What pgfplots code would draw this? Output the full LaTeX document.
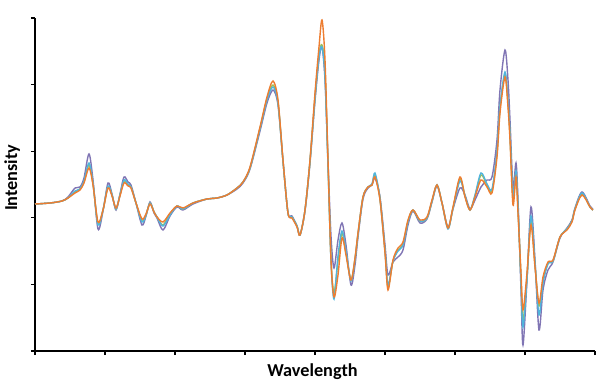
\documentclass[border=0pt]{standalone}
\usepackage{pgfplots}
\pgfplotsset{compat=1.18}
\usepackage{fontspec}
\setmainfont{Carlito}
\definecolor{cpurple}{RGB}{128,117,180}
\definecolor{ccyan}{RGB}{80,180,220}
\definecolor{cgreen}{RGB}{165,190,80}
\definecolor{corange}{RGB}{237,125,49}
\begin{document}
\begin{tikzpicture}
\useasboundingbox (-35bp,-31bp) rectangle (565bp,351bp);
\begin{axis}[
  scale only axis, width=560bp, height=333bp,
  xmin=35, xmax=595, ymin=0, ymax=333,
  axis x line*=bottom, axis y line*=left,
  x axis line style={-, line width=1.5bp, black},
  y axis line style={-, line width=1.5bp, black},
  xtick={35,105,...,595}, ytick={0,66.6,133.2,199.8,266.4,333},
  xticklabels={}, yticklabels={},
  tick align=outside, major tick length=4bp,
  tick style={black, line width=1.1bp},
  clip=false,
  xlabel={Wavelength}, ylabel={Intensity},
  label style={font=\bfseries\fontsize{18.3}{22}\selectfont},
  xlabel style={at={(rel axis cs:0.4955,-0.063)}, anchor=center},
  ylabel style={at={(rel axis cs:-0.041,0.52)}, anchor=center, rotate=0},
  every axis plot/.append style={line width=1.4bp, smooth, no markers, tension=0.5},
]
\addplot[cpurple] table {
35 147
50 148
62 150
68 154
75 163
80 164
84 173
89 197
93 171
98 122
103 140
108 168
112 157
116 141
120 157
124 174
128 169
131 166
136 148
142 126
146 135
150 149
154 138
157 133
163 121
170 135
177 144
183 141
193 147
207 152
217 153
227 156
237 162
243 168
250 182
260 220
267 248
273 261
278 246
283 190
288 138
292 135
297 125
300 116
305 140
310 188
315 250
319 291
322 304
325 271
328 190
331 115
334 83
338 111
342 128
346 106
351 66
355 86
358 114
363 152
368 163
372 166
375 173
380 154
385 106
388 76
393 89
398 94
403 101
408 126
413 140
420 128
427 132
432 149
437 165
442 148
448 124
453 142
460 163
465 156
470 142
475 151
481 164
487 171
492 174
497 211
500 261
505 301
508 271
510 231
513 164
516 188
518 151
521 61
523 6
527 71
531 144
535 91
539 21
543 61
548 81
553 89
560 113
567 123
572 131
575 143
582 159
590 145
593 142
};
\addplot[cgreen] table {
35 147
50 148
62 150
68 153
75 159
80 162
84 169
89 186
93 167
98 127
103 141
108 164
112 156
116 142
120 156
124 170
128 166
131 164
136 148
142 130
146 136
150 148
154 139
157 134
163 126
170 137
177 145
183 142
193 148
207 152
217 153
227 156
237 163
243 169
250 183
260 223
267 252
273 266
278 249
283 190
288 138
292 134
297 125
300 116
305 141
310 190
315 254
319 296
322 306
325 280
328 188
331 92
334 58
338 90
342 118
346 98
351 71
355 92
358 117
363 154
368 164
372 166
375 176
380 152
385 100
388 64
393 90
398 101
403 107
408 130
413 141
420 130
427 133
432 150
437 166
442 148
448 123
453 143
460 172
465 155
470 141
475 155
481 176
487 166
492 160
497 198
500 242
505 277
508 248
510 215
513 152
516 178
518 142
521 72
523 30
527 74
531 130
535 86
539 45
543 70
548 88
553 90
560 114
567 122
572 130
575 142
582 157
590 144
593 141
};
\addplot[ccyan] table {
35 147
50 148
62 150
68 153
75 160
80 162
84 170
89 188
93 168
98 126
103 141
108 165
112 156
116 142
120 156
124 171
128 167
131 164
136 148
142 129
146 136
150 148
154 139
157 134
163 125
170 136
177 145
183 142
193 148
207 152
217 153
227 156
237 163
243 169
250 183
260 222
267 251
273 264
278 248
283 190
288 138
292 134
297 125
300 116
305 141
310 190
315 253
319 294
322 304
325 275
328 185
331 90
334 52
338 95
342 120
346 100
351 70
355 92
358 117
363 154
368 164
372 167
375 178
380 152
385 100
388 66
393 90
398 100
403 106
408 129
413 141
420 130
427 133
432 150
437 166
442 148
448 122
453 143
460 170
465 155
470 141
475 156
481 178
487 167
492 162
497 200
500 245
505 279
508 250
510 218
513 155
516 180
518 145
521 70
523 24
527 72
531 135
535 88
539 36
543 68
548 87
553 90
560 114
567 122
572 130
575 142
582 158
590 144
593 141
};
\addplot[corange] table {
35 147
50 148
62 150
68 153
75 158
80 161
84 168
89 183
93 166
98 129
103 141
108 163
112 155
116 143
120 155
124 168
128 165
131 163
136 148
142 132
146 137
150 147
154 139
157 134
163 129
170 138
177 145
183 143
193 148
207 152
217 153
227 156
237 163
243 169
250 184
260 224
267 254
273 270
278 251
283 191
288 138
292 133
297 124
300 116
305 141
310 191
315 258
319 304
322 331
325 291
328 191
331 91
334 54
338 76
342 113
346 96
351 71
355 93
358 118
363 154
368 164
372 166
375 174
380 151
385 98
388 61
393 91
398 103
403 109
408 131
413 141
420 131
427 134
432 151
437 166
442 148
448 123
453 144
460 174
465 154
470 141
475 154
481 171
487 164
492 158
497 194
500 238
505 274
508 244
510 211
513 146
516 174
518 138
521 78
523 41
527 78
531 126
535 84
539 48
543 74
548 89
553 91
560 114
567 121
572 129
575 141
582 156
590 144
593 141
};
\end{axis}
\end{tikzpicture}
\end{document}
